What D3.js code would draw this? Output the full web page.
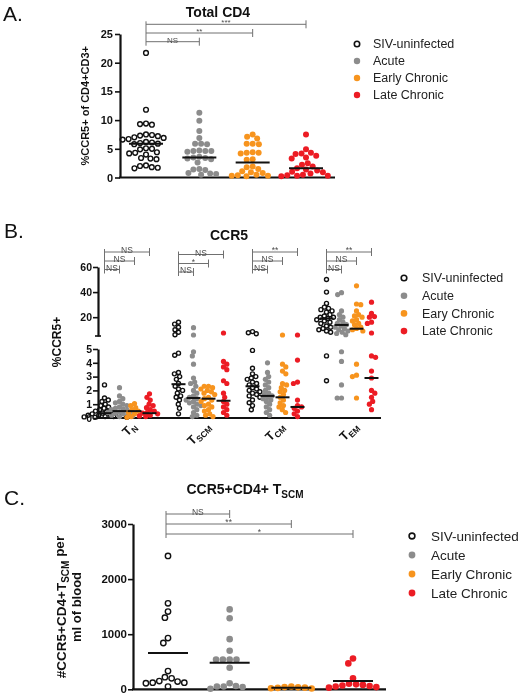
<!DOCTYPE html>
<html><head><meta charset="utf-8">
<script src="https://cdn.jsdelivr.net/npm/d3@7"></script>
<style>body{margin:0;background:#fff}svg{display:block;will-change:transform}text{font-family:"Liberation Sans",Arial,sans-serif}</style>
</head><body>
<svg id="chart" width="524" height="697"></svg>
<script>
// ---------------- DATA ----------------
const series = ["SIV-uninfected","Acute","Early Chronic","Late Chronic"];
const legendA = ["SIV-uninfected","Acute","Early Chronic","Late Chronic"];
const legendB = ["SIV-uninfected","Acute","Eary Chronic","Late Chronic"];
const legendC = ["SIV-uninfected","Acute","Early Chronic","Late Chronic"];

// Panel A: %CCR5+ of CD4+CD3+
const aTicks = [0,5,10,15,20,25];
const aSIV   = [21.7,11.8,9.4,9.2,9.3,7.5,7.3,7.2,7.4,7.0,6.7,6.6,6.9,6.0,5.9,6.1,5.8,6.2,5.0,5.1,4.9,4.3,4.2,4.4,4.0,3.3,3.2,3.4,2.0,1.8,1.6,1.7,2.1];
const aAcute = [11.3,9.9,8.1,6.9,5.9,5.9,5.8,4.6,4.6,4.5,4.6,4.7,3.6,3.4,3.5,3.3,3.2,2.6,1.4,1.3,1.5,0.7,0.6,0.5,0.8];
const aEarly = [7.5,7.1,6.8,5.9,5.8,5.9,4.3,4.4,4.2,4.3,3.1,3.2,1.9,1.8,1.5,1.1,0.9,0.8,0.5,0.4,0.3,0.2,0.3];
const aLate  = [7.5,4.9,4.2,4.3,4.1,3.8,3.5,3.3,2.5,2.2,1.9,1.6,1.4,1.2,1.0,0.9,0.7,0.5,0.4,0.3,0.3,0.2];
const aMedians = [5.9,3.5,2.6,1.6];
const aSig = ["NS","**","***"];   // SIV vs Acute, Early, Late

// Panel B: %CCR5+ by subset (broken axis)
const bGroups = ["TN","TSCM","TCM","TEM"];
const bSubs = ["N","SCM","CM","EM"];
const bTicksLow = [0,1,2,3,4,5];
const bTicksHigh = [20,40,60];
const bTN_SIV   = [2.4,1.45,1.3,1.2,1.0,0.9,0.8,0.7,0.6,0.55,0.5,0.45,0.4,0.35,0.3,0.3,0.25,0.2,0.2,0.15,0.1,0.1,0.08,0.05,0.05];
const bTN_Acute = [2.2,1.6,1.4,1.2,1.1,1.0,0.9,0.8,0.7,0.65,0.6,0.55,0.5,0.45,0.4,0.35,0.3,0.25,0.2,0.15,0.1];
const bTN_Early = [1.05,0.9,0.75,0.6,0.5,0.4,0.3,0.2,0.1,0.05];
const bTN_Late  = [1.75,1.5,1.3,1.0,0.9,0.75,0.6,0.5,0.4,0.35,0.3,0.2,0.15,0.1];
const bTSCM_SIV   = [16,14.5,12,10,8,6,4.7,4.55,3.3,3.2,3.0,2.8,2.5,2.3,2.1,2.0,1.8,1.6,1.5,1.3,1.0,0.7,0.3];
const bTSCM_Acute = [11.6,5.8,4.8,4.5,3.9,2.9,2.6,2.5,2.3,2.0,1.8,1.6,1.5,1.4,1.3,1.2,1.1,1.0,0.9,0.8,0.6,0.4,0.2,0.1];
const bTSCM_Early = [2.3,2.3,2.2,2.1,2.0,1.9,1.8,1.7,1.5,1.4,1.3,1.2,1.0,0.9,0.8,0.6,0.5,0.3,0.2,0.1];
const bTSCM_Late  = [7.4,4.1,3.9,3.7,3.5,2.7,2.5,1.8,1.5,1.2,1.0,0.8,0.6,0.4,0.2];
const bTCM_SIV   = [8.5,7.6,6.8,4.9,3.6,3.2,3.0,2.9,2.8,2.6,2.5,2.4,2.2,2.1,2.0,1.9,1.8,1.7,1.6,1.5,1.3,1.1,0.9,0.6];
const bTCM_Acute = [4.0,3.3,3.0,2.8,2.6,2.4,2.2,2.0,1.8,1.7,1.6,1.5,1.4,1.3,1.2,1.0,0.8,0.6,0.4,0.2];
const bTCM_Early = [5.8,3.9,3.7,3.4,3.2,2.5,2.4,2.2,2.0,1.9,1.7,1.5,1.3,1.1,0.9,0.8,0.6,0.4];
const bTCM_Late  = [5.8,4.2,2.6,2.5,1.3,0.9,0.8,0.7,0.5,0.3,0.1];
const bTEM_SIV   = [50,40,31,28,27,26,25,24,22,21,20,20,19,18,17,16,15,13,12,11,10,9,8,4.5,2.7];
const bTEM_Acute = [39.5,38,25,22,20,18,16,15,14,13,12,11,10,9,8,7,6,4.8,4.1,2.4,1.45,1.45];
const bTEM_Early = [45,30.5,30,25,22,21,20,18,17,15,14,12,11,10,9,3.9,3.1,3.0,1.45];
const bTEM_Late  = [32,23,20.5,20,16,15,7.4,4.5,4.4,3.4,2.9,2.0,1.8,1.5,1.2,1.0,0.6];
const bMedTN   = [0.35,0.5,0.5,0.35];
const bMedTSCM = [2.45,1.45,1.4,1.25];
const bMedTCM  = [2.3,1.6,1.5,0.8];
const bMedTEM  = [19,13.8,10.8,2.9];
const bSigTN   = ["NS","NS","NS"];   // vs Acute, Early, Late
const bSigTSCM = ["NS","*","NS"];
const bSigTCM  = ["NS","NS","**"];
const bSigTEM  = ["NS","NS","**"];

// Panel C: #CCR5+CD4+ TSCM per ml of blood
const cTicks = [0,1000,2000,3000];
const cSIV   = [2420,1560,1410,1300,930,840,330,220,200,150,140,120,120,110,50];
const cAcute = [1450,1290,910,700,540,540,540,540,390,110,60,50,50,40,10];
const cEarly = [50,40,35,30,25,20,15];
const cLate  = [560,470,200,100,90,80,70,60,50,40,30];
const cMeans = [660,480,30,150];
const cSig = ["NS","**","*"];

// ---------------- DRAWING ----------------
const svg = d3.select("#chart");
svg.append("rect").attr("width",524).attr("height",697).attr("fill","#fff");
const color = d3.scaleOrdinal().domain(series).range(["#111111","#8c8c8c","#f7941e","#ec1c24"]);
const bracketColor = "#707070";

function swarm(values, yFn, diam) {
  const pts = values.map(v => ({v, y: yFn(v)})).sort((a,b) => a.y - b.y);
  const placed = [];
  let flip = 1;
  for (const p of pts) {
    const cands = [0];
    for (const q of placed) {
      const dy = Math.abs(q.y - p.y);
      if (dy < diam) {
        const dx = Math.sqrt(diam*diam - dy*dy);
        cands.push(q.dx + dx + 0.01, q.dx - dx - 0.01);
      }
    }
    flip = -flip;
    cands.sort((a,b) => (Math.abs(a) - Math.abs(b)) || (flip * (a - b)));
    for (const c of cands) {
      if (placed.every(q => (q.dx-c)**2 + (q.y-p.y)**2 >= diam*diam - 0.02)) { p.dx = c; break; }
    }
    placed.push(p);
  }
  return placed;
}

function drawSwarm(g, values, cx, yFn, diam, r, s) {
  const pts = swarm(values, yFn, diam);
  const open = s === series[0];
  g.selectAll(null).data(pts).join("circle")
    .attr("cx", d => cx + d.dx).attr("cy", d => d.y)
    .attr("r", open ? r - 0.6 : r)
    .attr("fill", open ? "none" : color(s))
    .attr("stroke", open ? "#111" : "none")
    .attr("stroke-width", 1.4);
}

function drawMedian(g, cx, y, w) {
  g.append("line").attr("x1", cx - w).attr("x2", cx + w).attr("y1", y).attr("y2", y)
    .attr("stroke", "#111").attr("stroke-width", 2);
}

function drawBrackets(g, x0, ends, ys, labels, fs) {
  g.append("line").attr("x1", x0).attr("x2", x0)
    .attr("y1", d3.min(ys) - 3).attr("y2", d3.max(ys) + 4)
    .attr("stroke", bracketColor).attr("stroke-width", 1);
  ends.forEach((xe, i) => {
    const y = ys[i];
    g.append("line").attr("x1", x0).attr("x2", xe).attr("y1", y).attr("y2", y)
      .attr("stroke", bracketColor).attr("stroke-width", 1);
    g.append("line").attr("x1", xe).attr("x2", xe).attr("y1", y - 4).attr("y2", y + 4)
      .attr("stroke", bracketColor).attr("stroke-width", 1);
    g.append("text").attr("x", (x0 + xe) / 2).attr("y", y + 1)
      .attr("text-anchor", "middle").attr("font-size", fs).attr("fill", "#4d4d4d")
      .text(labels[i]);
  });
}

function drawLegend(x, tx, y0, dy, labels, fs, r) {
  labels.forEach((t, i) => {
    const y = y0 + i * dy;
    const open = i === 0;
    svg.append("circle").attr("cx", x).attr("cy", y).attr("r", open ? r - 0.5 : r)
      .attr("fill", open ? "none" : color(series[i]))
      .attr("stroke", open ? "#111" : "none").attr("stroke-width", 1.6);
    svg.append("text").attr("x", tx).attr("y", y).attr("dy", "0.35em")
      .attr("font-size", fs).attr("fill", "#222").text(t);
  });
}

function styleAxis(g, fs, tickW) {
  g.select(".domain").attr("stroke", "#111").attr("stroke-width", 2.2);
  g.selectAll(".tick line").attr("stroke", "#111").attr("stroke-width", tickW);
  g.selectAll(".tick text").attr("font-size", fs).attr("font-weight", "bold").attr("fill", "#111")
    .attr("font-family", '"Liberation Sans",Arial,sans-serif');
}

function panelLetter(t, x, y) {
  svg.append("text").attr("x", x).attr("y", y).attr("font-size", 21)
    .attr("font-family", "Lato, 'Open Sans', sans-serif").attr("fill", "#111").text(t);
}

const intFmt = d3.format("d");

// ---------- Panel A ----------
{
  const g = svg.append("g");
  const xA = d3.scalePoint().domain(series).range([146, 306]);
  const yA = d3.scaleLinear().domain([0, 25]).range([177.5, 34]);
  panelLetter("A.", 3, 21);
  g.append("text").attr("x", 218).attr("y", 16.5).attr("text-anchor", "middle")
    .attr("font-size", 14).attr("font-weight", "bold").attr("fill", "#111").text("Total CD4");
  const ax = g.append("g").attr("transform", "translate(120,0)")
    .call(d3.axisLeft(yA).tickValues(aTicks).tickFormat(intFmt).tickSize(5).tickSizeOuter(0).tickPadding(2));
  styleAxis(ax, 11, 1.6);
  g.append("line").attr("x1", 119).attr("x2", 335).attr("y1", yA(0)).attr("y2", yA(0))
    .attr("stroke", "#111").attr("stroke-width", 2.2);
  g.append("text").attr("transform", `translate(89,${(yA(0)+yA(25))/2}) rotate(-90)`)
    .attr("text-anchor", "middle").attr("font-size", 11).attr("font-weight", "bold").attr("fill", "#111")
    .text("%CCR5+ of CD4+CD3+");
  const data = [aSIV, aAcute, aEarly, aLate];
  series.forEach((s, i) => drawSwarm(g, data[i], xA(s), yA, 6.0, 3, s));
  series.forEach((s, i) => drawMedian(g, xA(s), yA(aMedians[i]), 17));
  drawBrackets(g, xA(series[0]), series.slice(1).map(xA), [41.7, 33, 24.3], aSig, 8);
  drawLegend(357, 373, 44, 17, legendA, 12.5, 3.2);
}

// ---------- Panel B ----------
{
  const g = svg.append("g");
  const xB = d3.scalePoint().domain(bGroups).range([127, 349]);
  const off = d3.scalePoint().domain(series).range([-22.5, 22.5]);
  const yLow = d3.scaleLinear().domain([0, 5]).range([418, 349]);
  const yHigh = d3.scaleLinear().domain([5, 60]).range([336, 267]);
  const yB = v => v <= 5 ? yLow(v) : yHigh(v);
  panelLetter("B.", 4, 238);
  g.append("text").attr("x", 229).attr("y", 240).attr("text-anchor", "middle")
    .attr("font-size", 14).attr("font-weight", "bold").attr("fill", "#111").text("CCR5");
  const axL = g.append("g").attr("transform", "translate(98,0)")
    .call(d3.axisLeft(yLow).tickValues(bTicksLow).tickFormat(intFmt).tickSize(5).tickSizeOuter(0).tickPadding(1));
  styleAxis(axL, 10.5, 1.6);
  const axH = g.append("g").attr("transform", "translate(98,0)")
    .call(d3.axisLeft(yHigh).tickValues(bTicksHigh).tickFormat(intFmt).tickSize(5).tickSizeOuter(0).tickPadding(1));
  styleAxis(axH, 10.5, 1.6);
  g.append("line").attr("x1", 95).attr("x2", 101).attr("y1", yHigh(5)).attr("y2", yHigh(5))
    .attr("stroke", "#111").attr("stroke-width", 1.6);
  g.append("line").attr("x1", 97).attr("x2", 381).attr("y1", yLow(0)).attr("y2", yLow(0))
    .attr("stroke", "#111").attr("stroke-width", 2.2);
  g.append("text").attr("transform", "translate(61,342) rotate(-90)")
    .attr("text-anchor", "middle").attr("font-size", 12).attr("font-weight", "bold").attr("fill", "#111")
    .text("%CCR5+");
  g.selectAll(null).data(bGroups).join("text")
    .attr("transform", d => `translate(${xB(d) + 10},427) rotate(-45)`)
    .attr("text-anchor", "end").attr("font-weight", "bold").attr("fill", "#111").attr("font-size", 12.5)
    .each(function(d, i) {
      const t = d3.select(this);
      t.append("tspan").text("T");
      t.append("tspan").attr("dy", 3).attr("font-size", 8.5).text(bSubs[i]);
    });
  const bData = {
    TN: [bTN_SIV, bTN_Acute, bTN_Early, bTN_Late],
    TSCM: [bTSCM_SIV, bTSCM_Acute, bTSCM_Early, bTSCM_Late],
    TCM: [bTCM_SIV, bTCM_Acute, bTCM_Early, bTCM_Late],
    TEM: [bTEM_SIV, bTEM_Acute, bTEM_Early, bTEM_Late]
  };
  const bMed = {TN: bMedTN, TSCM: bMedTSCM, TCM: bMedTCM, TEM: bMedTEM};
  const bSig = {TN: bSigTN, TSCM: bSigTSCM, TCM: bSigTCM, TEM: bSigTEM};
  bGroups.forEach(grp => {
    series.forEach((s, i) => drawSwarm(g, bData[grp][i], xB(grp) + off(s), yB, 4.3, 2.6, s));
    series.forEach((s, i) => drawMedian(g, xB(grp) + off(s), yB(bMed[grp][i]), 7));
    const x0 = xB(grp) + off(series[0]);
    const ends = series.slice(1).map(s => xB(grp) + off(s));
    const lv = grp === "TSCM" ? [272, 263.5, 254.5] : [269.5, 261, 252];
    drawBrackets(g, x0, ends, lv, bSig[grp], 8.5);
  });
  drawLegend(404, 422, 278, 17.7, legendB, 12.5, 3.3);
}

// ---------- Panel C ----------
{
  const g = svg.append("g");
  const xC = d3.scalePoint().domain(series).range([168, 353]);
  const yC = d3.scaleLinear().domain([0, 3000]).range([689.3, 524]);
  panelLetter("C.", 4, 505);
  const title = g.append("text").attr("x", 245).attr("y", 494).attr("text-anchor", "middle")
    .attr("font-size", 14).attr("font-weight", "bold").attr("fill", "#111");
  title.append("tspan").text("CCR5+CD4+ T");
  title.append("tspan").attr("dy", 4).attr("font-size", 10).text("SCM");
  const ax = g.append("g").attr("transform", "translate(133,0)")
    .call(d3.axisLeft(yC).tickValues(cTicks).tickFormat(intFmt).tickSize(5).tickSizeOuter(0).tickPadding(1));
  styleAxis(ax, 11.5, 1.6);
  g.append("line").attr("x1", 132).attr("x2", 386).attr("y1", yC(0)).attr("y2", yC(0))
    .attr("stroke", "#111").attr("stroke-width", 2.2);
  const yl = g.append("text").attr("transform", "translate(66,607) rotate(-90)")
    .attr("text-anchor", "middle").attr("font-size", 13.5).attr("font-weight", "bold").attr("fill", "#111");
  yl.append("tspan").text("#CCR5+CD4+T");
  yl.append("tspan").attr("dy", 3).attr("font-size", 10).text("SCM");
  yl.append("tspan").attr("dy", -5).text(" per");
  g.append("text").attr("transform", "translate(81,607) rotate(-90)")
    .attr("text-anchor", "middle").attr("font-size", 13).attr("font-weight", "bold").attr("fill", "#111")
    .text("ml of blood");
  const data = [cSIV, cAcute, cEarly, cLate];
  series.forEach((s, i) => drawSwarm(g, data[i], xC(s), yC, 6.8, 3.3, s));
  series.forEach((s, i) => drawMedian(g, xC(s), yC(cMeans[i]), 20));
  drawBrackets(g, xC(series[0]) - 2, series.slice(1).map(xC), [514, 524, 534], cSig, 8.5);
  drawLegend(412, 431, 536, 19, legendC, 13.5, 3.4);
}
</script>
</body></html>
